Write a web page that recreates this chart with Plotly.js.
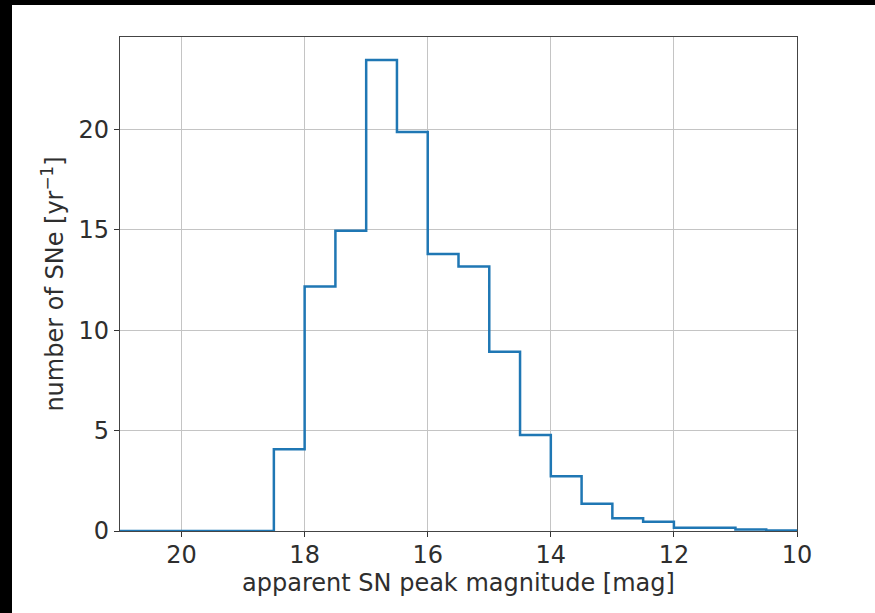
<!DOCTYPE html>
<html>
<head>
<meta charset="utf-8">
<script src="https://cdn.plot.ly/plotly-3.0.1.min.js"></script>
<style>
html,body{margin:0;padding:0;background:#000;width:875px;height:613px;overflow:hidden;}
#plot{position:absolute;left:12px;top:5px;width:863px;height:608px;background:#fff;}
</style>
</head>
<body>
<div id="plot"></div>
<script>
// Bin edges (apparent magnitude) and counts per bin (SNe per year)
const binEdges = [21, 20.5, 20, 19.5, 19, 18.5, 18, 17.5, 17, 16.5, 16, 15.5, 15, 14.5, 14, 13.5, 13, 12.5, 12, 11.5, 11, 10.5, 10];
const counts = [0, 0, 0, 0, 0, 4.07, 12.17, 14.95, 23.45, 19.87, 13.79, 13.17, 8.93, 4.78, 2.73, 1.36, 0.63, 0.46, 0.16, 0.16, 0.08, 0.02];
const xTicks = [20, 18, 16, 14, 12, 10];
const yTicks = [0, 5, 10, 15, 20];

const xs = binEdges.slice();
const ys = counts.concat([counts[counts.length - 1]]);

const font = {family: 'DejaVu Sans, sans-serif', size: 24, color: '#2e2e2e'};

const trace = {
  x: xs, y: ys, type: 'scatter', mode: 'lines',
  line: {shape: 'hv', color: '#1f77b4', width: 2.5},
  hoverinfo: 'skip', showlegend: false
};

const layout = {
  width: 863, height: 608,
  margin: {l: 108, r: 78, t: 32, b: 82},
  paper_bgcolor: '#fff', plot_bgcolor: '#fff',
  font: font,
  xaxis: {
    range: [21, 10], tickvals: xTicks, ticktext: xTicks.map(String),
    ticks: 'outside', ticklen: 5, tickwidth: 1, tickcolor: '#333',
    ticklabelstandoff: -3,
    showline: true, mirror: true, linecolor: '#444', linewidth: 1.2,
    showgrid: true, gridcolor: '#c4c4c4', gridwidth: 1, zeroline: false,
    tickfont: font,
    title: {text: 'apparent SN peak magnitude [mag]', font: font, standoff: 2}
  },
  yaxis: {
    range: [0, 24.6], tickvals: yTicks, ticktext: yTicks.map(String),
    ticks: 'outside', ticklen: 5, tickwidth: 1, tickcolor: '#333',
    showline: true, mirror: true, linecolor: '#444', linewidth: 1.2,
    showgrid: true, gridcolor: '#c4c4c4', gridwidth: 1, zeroline: false,
    tickfont: font,
    title: {text: 'number of SNe [yr<sup>−1</sup>]', font: font, standoff: 8}
  }
};

Plotly.newPlot('plot', [trace], layout, {displayModeBar: false, staticPlot: true});
</script>
</body>
</html>
